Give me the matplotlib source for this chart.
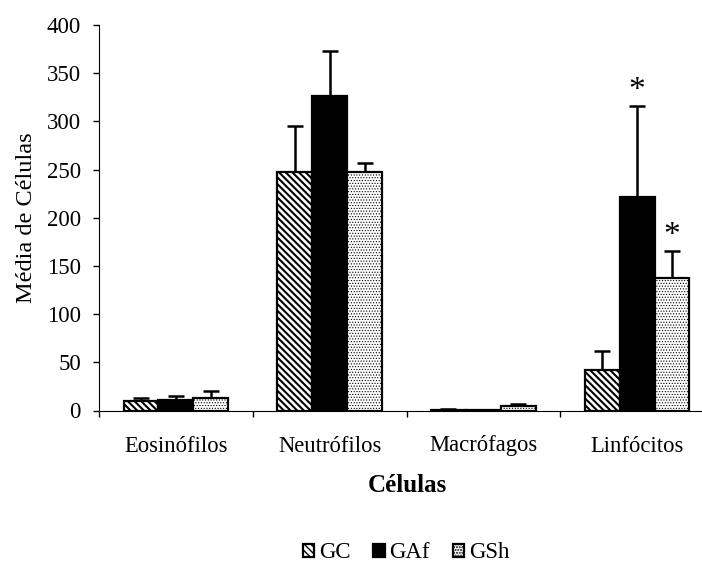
import numpy as np
import matplotlib
matplotlib.use("Agg")
import matplotlib.pyplot as plt

categories = ["Eosinófilos", "Neutrófilos", "Macrófagos", "Linfócitos"]
groups = ["GC", "GAf", "GSh"]

gc_mean = [10, 247, 1, 42]
gc_err = [3, 48, 1, 20]
gaf_mean = [11, 326, 0.5, 222]
gaf_err = [4, 47, 0.3, 94]
gsh_mean = [13, 247, 4.5, 137]
gsh_err = [7, 10, 2, 29]

# asterisks marking significance (category index, group index)
signif = [(3, 1), (3, 2)]

plt.rcParams['font.family'] = ['Liberation Serif', 'DejaVu Serif']

fig = plt.figure(figsize=(7.02, 5.65), dpi=100)
ax = fig.add_axes([99/702, (565-410.5)/565, 615/702, 385.5/565])

x = np.arange(len(categories))
w = 0.227
means = [gc_mean, gaf_mean, gsh_mean]
errs = [gc_err, gaf_err, gsh_err]
faces = ["white", "black", "white"]
hatches = ["\\\\\\\\\\", None, "......"]
hlw = [1.5, 1.0, 0.5]

bars = []
for i in range(3):
    with plt.rc_context({'hatch.linewidth': hlw[i]}):
        b = ax.bar(x + (i - 1) * w, means[i], w, color=faces[i], edgecolor="black",
                   linewidth=1.6, hatch=hatches[i], label=groups[i], zorder=2)
    ax.errorbar(x + (i - 1) * w, means[i], yerr=[np.zeros(4), errs[i]], fmt="none",
                ecolor="black", elinewidth=1.8, capsize=5.5, capthick=1.8, zorder=1)
    bars.append(b)

for c, g in signif:
    top = means[g][c] + errs[g][c]
    ax.text(x[c] + (g - 1) * w, top, "*", ha="center", va="bottom", fontsize=24)

ax.set_xlim(-0.5, 3.5)
ax.set_ylim(0, 400)
ax.set_yticks(range(0, 401, 50))
ax.set_xticks(np.arange(-0.5, 4, 1))
ax.set_xticklabels([])
ax.set_xticks(x, minor=True)
ax.set_xticklabels(categories, minor=True)
ax.tick_params(axis="x", which="minor", length=0, pad=18, labelsize=16.3)
ax.tick_params(axis="x", which="major", length=4, width=1, direction="out")
ax.tick_params(axis="y", length=4, width=1, labelsize=16.5, pad=9)
ax.spines["top"].set_visible(False)
ax.spines["right"].set_visible(False)
ax.set_ylabel("Média de Células", fontsize=17.5, labelpad=7)

fig.text(407/702, 1 - 486/565, "Células", ha="center", va="center",
         fontsize=18, fontweight="bold")

fig.legend(handles=bars, labels=groups, loc="center", bbox_to_anchor=(406/702, 1 - 553/565),
           ncol=3, frameon=False, fontsize=16.5, handlelength=0.5, handleheight=0.5,
           handletextpad=0.2, columnspacing=1.0, borderpad=0)

fig.savefig("out.png", dpi=100)
